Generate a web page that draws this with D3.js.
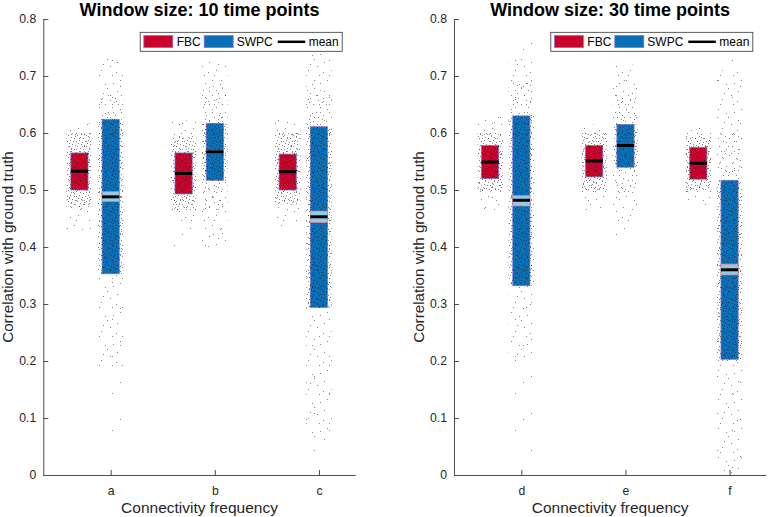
<!DOCTYPE html>
<html><head><meta charset="utf-8">
<script src="https://cdn.jsdelivr.net/npm/d3@7"></script>
<style>body{margin:0;background:#fff}svg{display:block}text{font-family:"Liberation Sans",Arial,sans-serif}</style>
</head><body>
<svg id="c" width="768" height="517"></svg>
<script>
// ---------- data ----------
const titles = ["Window size: 10 time points", "Window size: 30 time points"];
const categories10 = ["a", "b", "c"];
const categories30 = ["d", "e", "f"];
const yTicks = [0, 0.1, 0.2, 0.3, 0.4, 0.5, 0.6, 0.7, 0.8];

// FBC boxes
const fbcLow10  = [0.500, 0.493, 0.500];
const fbcHigh10 = [0.565, 0.565, 0.563];
const fbcMean10 = [0.533, 0.529, 0.532];
const fbcLow30  = [0.520, 0.523, 0.519];
const fbcHigh30 = [0.578, 0.578, 0.575];
const fbcMean30 = [0.549, 0.551, 0.547];
// SWPC boxes
const swpcLow10  = [0.353, 0.517, 0.294];
const swpcHigh10 = [0.624, 0.617, 0.611];
const swpcMean10 = [0.488, 0.567, 0.453];
const swpcBandLo10 = [0.480, 0.565, 0.443];
const swpcBandHi10 = [0.497, 0.569, 0.463];
const swpcLow30  = [0.332, 0.540, 0.203];
const swpcHigh30 = [0.630, 0.615, 0.517];
const swpcMean30 = [0.482, 0.578, 0.360];
const swpcBandLo30 = [0.472, 0.576, 0.351];
const swpcBandHi30 = [0.490, 0.580, 0.370];

// point-cloud density bands: [low, high, density level 0..3]
const fbcCloud10 = [
  [[0.43,0.47,1],[0.47,0.60,3],[0.60,0.617,1]],
  [[0.38,0.44,0],[0.44,0.465,1],[0.465,0.595,3],[0.595,0.622,1]],
  [[0.435,0.475,1],[0.475,0.60,3],[0.60,0.626,1]]
];
const swpcCloud10 = [
  [[0.05,0.19,0],[0.19,0.353,1],[0.353,0.624,3],[0.624,0.67,2],[0.67,0.73,1]],
  [[0.40,0.46,1],[0.46,0.517,2],[0.517,0.617,3],[0.617,0.68,2],[0.68,0.725,1]],
  [[0.035,0.06,0],[0.06,0.294,1],[0.294,0.611,3],[0.611,0.675,2],[0.675,0.74,1]]
];
const fbcCloud30 = [
  [[0.465,0.497,1],[0.497,0.60,3],[0.60,0.632,1]],
  [[0.465,0.50,1],[0.50,0.60,3],[0.60,0.615,1]],
  [[0.47,0.50,1],[0.50,0.595,3],[0.595,0.61,1]]
];
const swpcCloud30 = [
  [[0.04,0.2,0],[0.2,0.332,1],[0.332,0.63,3],[0.63,0.69,2],[0.69,0.735,1],[0.735,0.78,0]],
  [[0.40,0.44,0],[0.44,0.49,1],[0.49,0.54,2],[0.54,0.615,3],[0.615,0.672,2],[0.672,0.72,1]],
  [[0.0,0.2,1],[0.2,0.517,3],[0.517,0.60,2],[0.60,0.71,1],[0.71,0.79,0]]
];

const legendLabels = ["FBC", "SWPC", "mean"];

// ---------- styles ----------
const C_FBC = "#c8042c", C_SWPC = "#0a6fb6", C_BOXSTROKE = "#7b79d8";
const C_BAND = "#96c9e6", C_BANDSTROKE = "#e2898a";
const AX = "#4d4d4d", TXT = "#262626";

const svg = d3.select("#c");
const defs = svg.append("defs");
// dot textures used to render the point clouds at each density level
const tiles = [
  {id:"t0", w:31, h:37, pts:[[4,6],[19,23],[27,12]]},
  {id:"t1", w:23, h:29, pts:[[2,4],[15,1],[9,12],[20,17],[5,22],[13,26],[18,8],[7,17],[21,25],[11,6],[1,14]]},
  {id:"t2", w:13, h:17, pts:[[1,2],[8,5],[4,10],[11,13],[6,15],[10,0]]},
  {id:"t3", w:9,  h:11, pts:[[0,1],[5,3],[2,6],[7,8],[4,9],[8,5],[3,2],[6,0]]}
];
tiles.forEach(t => {
  const p = defs.append("pattern").attr("id", t.id).attr("patternUnits","userSpaceOnUse")
    .attr("width", t.w).attr("height", t.h);
  t.pts.forEach(q => p.append("rect").attr("x", q[0]).attr("y", q[1]).attr("width",1).attr("height",1)
    .attr("fill","rgba(35,35,35,0.55)"));
});
const levelTiles = [["t0"],["t0","t1"],["t0","t1","t2"],["t0","t1","t2","t3"]];

const y = d3.scaleLinear().domain([0, 0.8]).range([475, 19]);

const panels = [
  {x0:43.3, x1:355.7, title:titles[0], cats:categories10,
   fl:fbcLow10, fh:fbcHigh10, fm:fbcMean10, sl:swpcLow10, sh:swpcHigh10, sm:swpcMean10,
   bl:swpcBandLo10, bh:swpcBandHi10, fc:fbcCloud10, sc:swpcCloud10},
  {x0:454, x1:766.3, title:titles[1], cats:categories30,
   fl:fbcLow30, fh:fbcHigh30, fm:fbcMean30, sl:swpcLow30, sh:swpcHigh30, sm:swpcMean30,
   bl:swpcBandLo30, bh:swpcBandHi30, fc:fbcCloud30, sc:swpcCloud30}
];

const FBC_OFF = -0.3, BOXW = 0.165, CLOUD_HW = 0.122;

panels.forEach(P => {
  const x = d3.scaleLinear().domain([0.353, 3.353]).range([P.x0, P.x1]);
  const g = svg.append("g");
  const bw = x(BOXW) - x(0);

  function drawBox(cx, lo, hi, fill){
    g.append("rect").attr("x", x(cx) - bw/2).attr("y", y(hi)).attr("width", bw)
      .attr("height", y(lo) - y(hi)).attr("fill", fill).attr("stroke", C_BOXSTROKE).attr("stroke-width", 0.8);
  }
  function drawCloud(cx, segs){
    segs.forEach(s => {
      levelTiles[s[2]].forEach(t => {
        g.append("rect").attr("x", x(cx - CLOUD_HW)).attr("y", y(s[1]))
          .attr("width", x(cx + CLOUD_HW) - x(cx - CLOUD_HW)).attr("height", y(s[0]) - y(s[1]))
          .attr("fill", `url(#${t})`);
      });
    });
  }
  function drawMean(cx, m, blo, bhi){
    if (blo !== null) {
      g.append("rect").attr("x", x(cx) - bw/2).attr("y", y(bhi)).attr("width", bw)
        .attr("height", y(blo) - y(bhi)).attr("fill", C_BAND).attr("stroke", C_BANDSTROKE).attr("stroke-width", 0.7);
    }
    g.append("line").attr("x1", x(cx) - bw/2).attr("x2", x(cx) + bw/2)
      .attr("y1", y(m)).attr("y2", y(m)).attr("stroke", "#000").attr("stroke-width", 3);
  }

  P.cats.forEach((c, i) => {
    const k = i + 1;
    drawBox(k + FBC_OFF, P.fl[i], P.fh[i], C_FBC);
    drawBox(k, P.sl[i], P.sh[i], C_SWPC);
    drawCloud(k + FBC_OFF, P.fc[i]);
    drawCloud(k, P.sc[i]);
    drawMean(k + FBC_OFF, P.fm[i], null, null);
    drawMean(k, P.sm[i], P.bl[i], P.bh[i]);
  });

  // axes
  const yAxis = d3.axisLeft(y).tickValues(yTicks).tickSize(-5).tickPadding(7)
    .tickFormat(d => d === 0 ? "0" : d3.format(".1f")(d));
  const ya = svg.append("g").attr("transform", `translate(${P.x0},0)`).call(yAxis);
  const xAxis = d3.axisBottom(x).tickValues([1,2,3]).tickSize(-5).tickPadding(11)
    .tickFormat((d,i) => P.cats[i]);
  const xa = svg.append("g").attr("transform", `translate(0,${y(0)})`).call(xAxis);
  [ya, xa].forEach(a => {
    a.select(".domain").attr("stroke", AX);
    a.selectAll(".tick line").attr("stroke", AX);
    a.selectAll("text").attr("fill", TXT).style("font-size", "12.2px");
  });
  ya.select(".domain").attr("d", `M0.5,${y(0)}V${y(0.8)}`);
  xa.select(".domain").attr("d", `M${P.x0},0.5H${P.x1}`);

  // title & labels
  svg.append("text").attr("x", (P.x0 + P.x1)/2).attr("y", 15.5).attr("text-anchor","middle")
    .style("font-size","18px").style("font-weight","bold")
    .attr("fill","#000").text(P.title);
  svg.append("text").attr("x", (P.x0 + P.x1)/2).attr("y", 513).attr("text-anchor","middle")
    .style("font-size","15.5px").attr("fill", TXT).text("Connectivity frequency");
  svg.append("text").attr("transform", `translate(${P.x0 - 30},${y(0.4)}) rotate(-90)`).attr("text-anchor","middle")
    .style("font-size","15.2px").attr("fill", TXT).text("Correlation with ground truth");

  // legend
  const lw = 202, lx = P.x1 - 13.5 - lw, ly = 32.3;
  const L = svg.append("g").attr("transform", `translate(${lx},${ly})`);
  L.append("rect").attr("x",0).attr("y",0).attr("width",lw).attr("height",19)
    .attr("fill","#fff").attr("stroke","#333").attr("stroke-width",0.8);
  L.append("rect").attr("x",3.6).attr("y",3.3).attr("width",29).attr("height",12)
    .attr("fill",C_FBC).attr("stroke",C_BOXSTROKE).attr("stroke-width",0.8);
  L.append("text").attr("x",36.5).attr("y",14).style("font-size","12px").attr("fill","#000").text(legendLabels[0]);
  L.append("rect").attr("x",64).attr("y",3.3).attr("width",29).attr("height",12)
    .attr("fill",C_SWPC).attr("stroke",C_BOXSTROKE).attr("stroke-width",0.8);
  L.append("text").attr("x",96.5).attr("y",14).style("font-size","12px").attr("fill","#000").text(legendLabels[1]);
  L.append("line").attr("x1",137.5).attr("x2",165).attr("y1",9.5).attr("y2",9.5).attr("stroke","#000").attr("stroke-width",2.5);
  L.append("text").attr("x",168.5).attr("y",14).style("font-size","12px").attr("fill","#000").text(legendLabels[2]);
});
</script>
</body></html>
